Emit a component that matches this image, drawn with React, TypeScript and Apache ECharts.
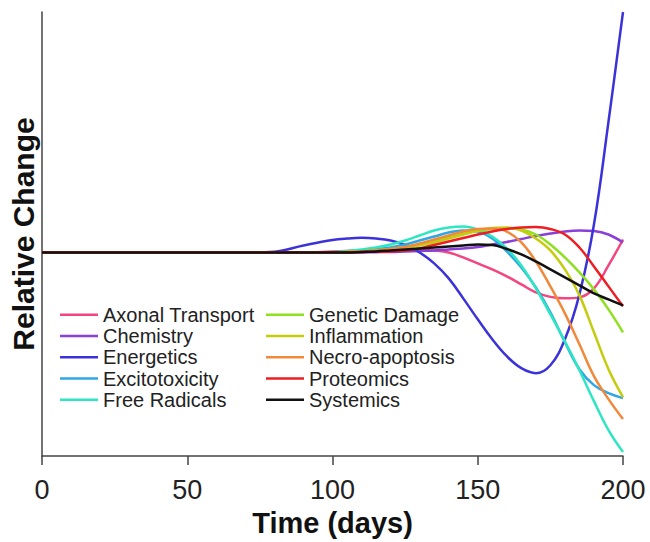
import React, { useEffect, useRef } from "react";
import * as echarts from "echarts";

const times = [0, 20, 40, 60, 70, 80, 90, 100, 105, 110, 115, 120, 125, 130, 135, 140, 145, 150, 155, 160, 165, 170, 175, 180, 185, 190, 195, 200];

const axonalTransport = [0, 0, 0, 0, 0, 0, 0, 1, 1.5, 2, 2.5, 3, 3.5, 3, 2, 0, -5, -11, -17, -24, -32, -40, -44.5, -46, -45, -36, -13, 13];
const chemistry = [0, 0, 0, 0, 0, 0, 0, 0, 0, 0, 0.3, 0.5, 1, 1.5, 2, 3, 4, 5.5, 8, 10.5, 13.5, 16.5, 19, 21, 22, 21.5, 18, 10];
const energetics = [0, 0, 0, 0, 0, 0.8, 7, 12.5, 14, 14.7, 14, 12, 7.5, 0, -11, -26, -46, -67, -87, -104, -116, -121, -113, -87, -42, 28, 131, 241];
const excitotoxicity = [0, 0, 0, 0, 0, 0, 0, 0, 1, 2, 3.5, 5, 8, 12, 16, 20, 22, 21, 14, 1, -15, -35, -60, -90, -117, -133, -141, -146];
const freeRadicals = [0, 0, 0, 0, 0, 0, 0, 0.5, 1.5, 3, 5, 8, 12, 17, 22, 25, 26, 23, 16, 4, -13, -36, -62, -89, -118, -149, -178, -200];
const geneticDamage = [0, 0, 0, 0, 0, 0, 0, 0, 0.5, 1, 2, 3.5, 5.5, 8, 11.5, 15, 18.5, 21.5, 23.5, 24, 23, 18, 8, -5, -20, -37, -57, -80];
const inflammation = [0, 0, 0, 0, 0, 0, 0, 0, 0.5, 1, 2, 3, 4.5, 7, 10, 14, 18, 22, 24.5, 25, 22, 14, 2, -17, -43, -80, -117, -145];
const necroApoptosis = [0, 0, 0, 0, 0, 0, 0, 0, 0.5, 1, 2, 3.5, 5.5, 9, 13, 17, 21, 23.5, 24, 21, 10, -9, -34, -61, -92, -124, -147, -167];
const proteomics = [0, 0, 0, 0, 0, 0, 0, 0, 0, 0.5, 0.7, 1, 2, 4, 7.5, 11, 14.5, 18, 21, 23.5, 25, 25.5, 23.5, 18, 5, -14, -34, -54];
const systemics = [0, 0, 0, 0, 0, 0, 0, 0, 0, 0.5, 1, 2, 3, 4, 5, 6, 7, 8, 7.5, 3.5, -2, -9, -17, -25, -33, -41, -47, -53];

const seriesNames = [
  "Axonal Transport",
  "Chemistry",
  "Energetics",
  "Excitotoxicity",
  "Free Radicals",
  "Genetic Damage",
  "Inflammation",
  "Necro-apoptosis",
  "Proteomics",
  "Systemics",
];
const seriesValues = [
  axonalTransport,
  chemistry,
  energetics,
  excitotoxicity,
  freeRadicals,
  geneticDamage,
  inflammation,
  necroApoptosis,
  proteomics,
  systemics,
];
const seriesColors = [
  "#f4457f",
  "#8a3fd8",
  "#3b33d9",
  "#2fa6e6",
  "#2fe6c2",
  "#8fe01f",
  "#c4cc0c",
  "#f2893a",
  "#ee1d23",
  "#111111",
];

const xTicks = [0, 50, 100, 150, 200];
const legendCol1 = seriesNames.slice(0, 5);
const legendCol2 = seriesNames.slice(5);

const FONT = '"Liberation Sans", Arial, Helvetica, sans-serif';

export default function App() {
  const ref = useRef<HTMLDivElement>(null);

  useEffect(() => {
    if (!ref.current) return;
    const chart = echarts.init(ref.current, undefined, { renderer: "svg" });

    const series = seriesNames.map((name, i) => ({
      name,
      type: "line",
      data: times.map((t, j) => [t, seriesValues[i][j]]),
      smooth: 0.4,
      symbol: "none",
      showSymbol: false,
      lineStyle: { width: 2.5, color: seriesColors[i] },
      itemStyle: { color: seriesColors[i] },
      emphasis: { disabled: true },
    }));

    const legendBase = {
      orient: "vertical",
      top: 299,
      icon: "rect",
      itemWidth: 38,
      itemHeight: 2.5,
      itemGap: 0,
      selectedMode: false,
      textStyle: {
        fontFamily: FONT,
        fontSize: 20,
        color: "#222",
        lineHeight: 21.3,
      },
    };

    chart.setOption({
      animation: false,
      backgroundColor: "#ffffff",
      textStyle: { fontFamily: FONT },
      grid: { left: 40, right: 27, top: 12, bottom: 85, containLabel: false },
      legend: [
        { ...legendBase, left: 55, data: legendCol1 },
        { ...legendBase, left: 261, data: legendCol2 },
      ],
      xAxis: {
        type: "value",
        min: xTicks[0],
        max: xTicks[xTicks.length - 1],
        interval: 50,
        name: "Time (days)",
        nameLocation: "middle",
        nameGap: 52,
        nameTextStyle: { fontFamily: FONT, fontSize: 29, fontWeight: "bold", color: "#111" },
        axisLine: { show: true, onZero: false, lineStyle: { color: "#444", width: 1.5 } },
        axisTick: { show: true, length: 9, lineStyle: { color: "#444", width: 1.5 } },
        axisLabel: { fontFamily: FONT, fontSize: 27, color: "#222", margin: 20 },
        splitLine: { show: false },
      },
      yAxis: {
        type: "value",
        min: -204,
        max: 241,
        name: "Relative Change",
        nameLocation: "middle",
        nameGap: 4,
        nameRotate: 90,
        nameTextStyle: { fontFamily: FONT, fontSize: 30, fontWeight: "bold", color: "#111" },
        axisLine: { show: true, lineStyle: { color: "#444", width: 1.5 } },
        axisTick: { show: false },
        axisLabel: { show: false },
        splitLine: { show: false },
      },
      series,
    });

    return () => chart.dispose();
  }, []);

  return (
    <div
      ref={ref}
      style={{ position: "absolute", left: 0, top: 0, width: 650, height: 542 }}
    />
  );
}
